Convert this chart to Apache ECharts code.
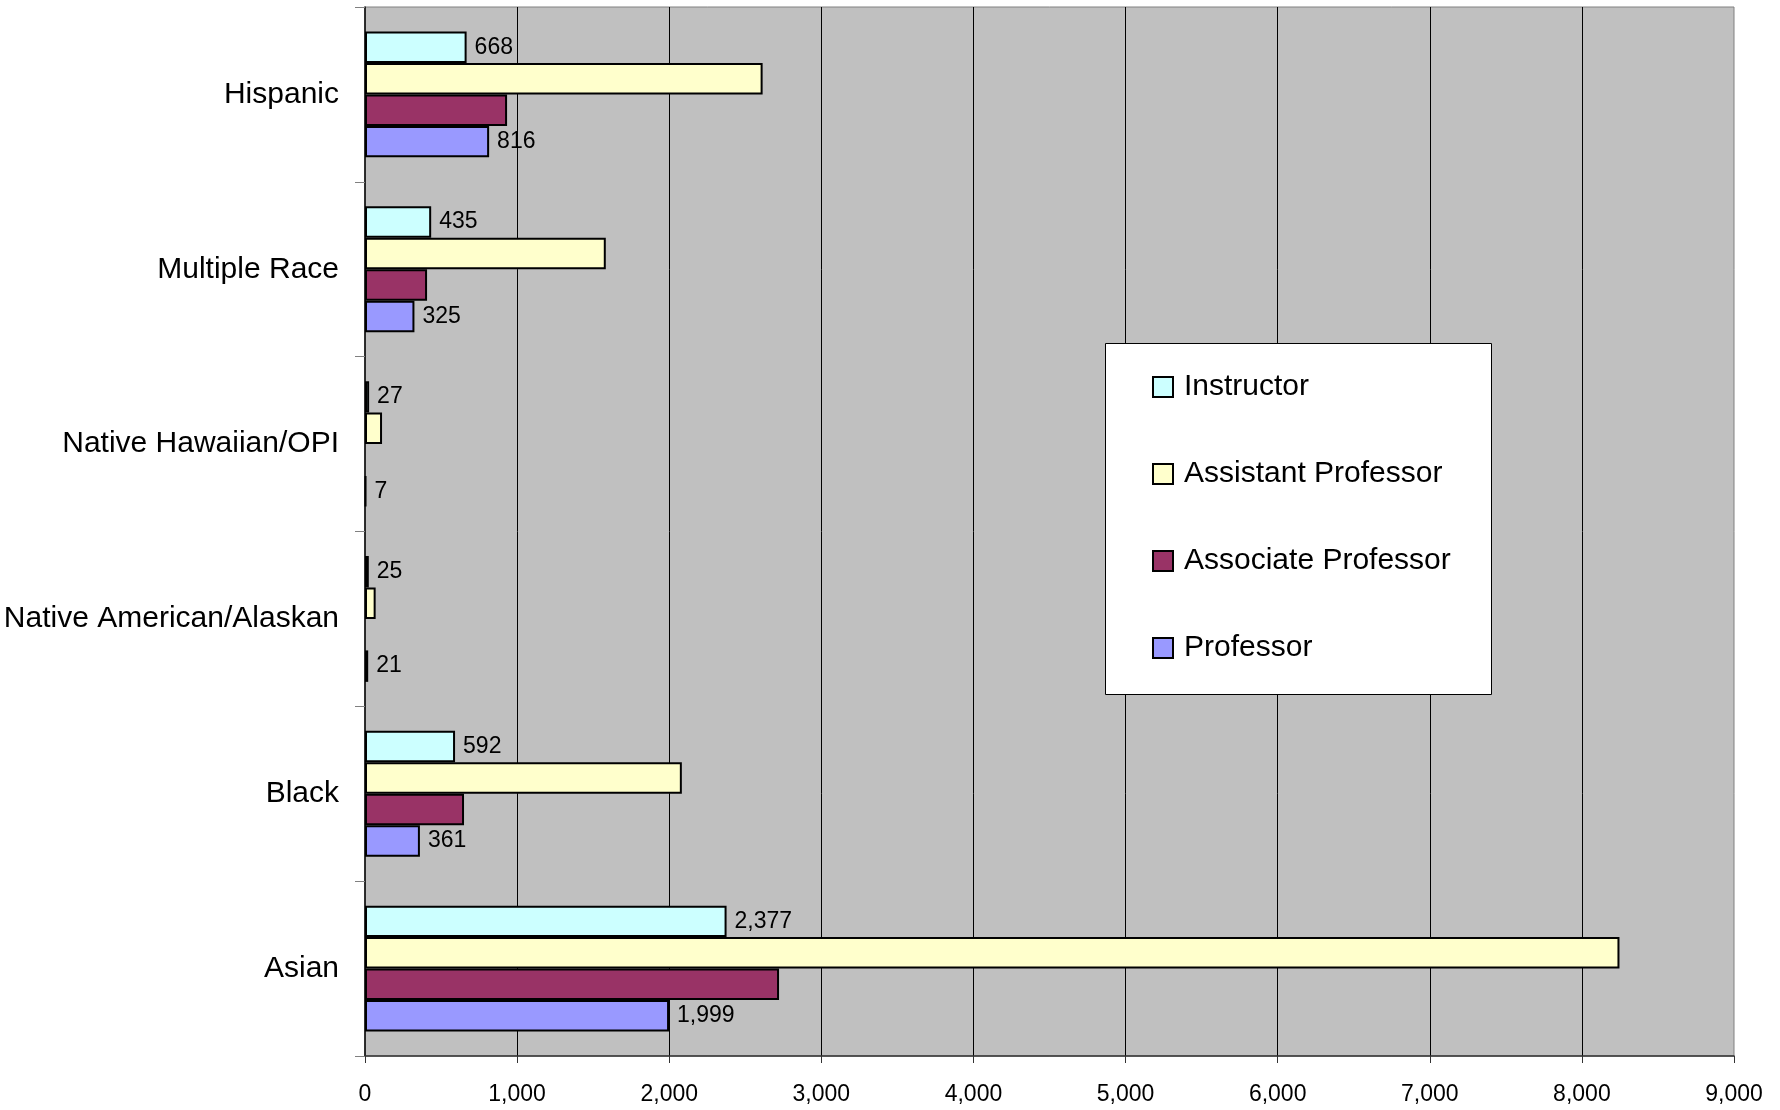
<!DOCTYPE html>
<html>
<head>
<meta charset="utf-8">
<script src="https://cdn.jsdelivr.net/npm/echarts@6/dist/echarts.min.js"></script>
<style>
  html, body { margin: 0; padding: 0; background: #ffffff; }
  #chart { width: 1780px; height: 1110px; }
</style>
</head>
<body>
<div id="chart"></div>
<script>
// Faculty counts by race/ethnicity and rank
const categories = ['Hispanic', 'Multiple Race', 'Native Hawaiian/OPI', 'Native American/Alaskan', 'Black', 'Asian'];
const seriesNames = ['Instructor', 'Assistant Professor', 'Associate Professor', 'Professor'];
const instructor = [668, 435, 27, 25, 592, 2377];
const assistantProfessor = [2614, 1583, 112, 70, 2083, 8247];
const associateProfessor = [934, 408, null, null, 651, 2722];
const professor = [816, 325, 7, 21, 361, 1999];
const xTicks = [0, 1000, 2000, 3000, 4000, 5000, 6000, 7000, 8000, 9000];

const colors = ['#CCFFFF', '#FFFFCC', '#993366', '#9999FF'];
const values = [instructor, assistantProfessor, associateProfessor, professor];
const labelled = [true, false, false, true];

const FONT = "'Liberation Sans', Arial, sans-serif";
const fmt = v => Number(v).toLocaleString('en-US');

const chart = echarts.init(document.getElementById('chart'), null, { renderer: 'canvas' });

const series = seriesNames.map((name, i) => ({
  name: name,
  type: 'bar',
  data: values[i],
  barGap: '0%',
  barCategoryGap: '28%',
  itemStyle: { color: colors[i], borderColor: '#000000', borderWidth: 2 },
  label: {
    show: labelled[i],
    position: 'right',
    distance: 8,
    color: '#000000',
    fontFamily: FONT,
    fontSize: 23,
    formatter: p => fmt(p.value)
  },
  emphasis: { disabled: true },
  animation: false
}));

chart.setOption({
  animation: false,
  backgroundColor: '#ffffff',
  grid: {
    left: 365, right: 46, top: 7, bottom: 54,
    containLabel: false,
    outerBoundsMode: 'none',
    show: true,
    backgroundColor: '#C0C0C0',
    borderColor: '#808080',
    borderWidth: 1
  },
  xAxis: {
    type: 'value',
    min: xTicks[0],
    max: xTicks[xTicks.length - 1],
    interval: xTicks[1] - xTicks[0],
    axisLine: { show: true, lineStyle: { color: '#333333', width: 1.5 } },
    axisTick: { show: true, length: 7, lineStyle: { color: '#333333' } },
    axisLabel: {
      margin: 27,
      color: '#000000',
      fontFamily: FONT,
      fontSize: 23,
      formatter: v => fmt(v)
    },
    splitLine: { show: true, showMinLine: false, showMaxLine: false, lineStyle: { color: '#000000', width: 1 } }
  },
  yAxis: {
    type: 'category',
    data: categories,
    inverse: true,
    axisLine: { show: true, lineStyle: { color: '#000000', width: 1.5 } },
    axisTick: { show: true, length: 10, lineStyle: { color: '#808080' } },
    axisLabel: {
      margin: 26,
      color: '#000000',
      fontFamily: FONT,
      fontSize: 30,
      padding: [8, 0, 0, 0]
    },
    splitLine: { show: false }
  },
  legend: {
    data: seriesNames,
    orient: 'vertical',
    left: 1152,
    top: 367,
    z: 10,
    padding: 0,
    itemGap: 47,
    itemWidth: 20,
    itemHeight: 20,
    icon: 'rect',
    itemStyle: { borderColor: '#000000', borderWidth: 2 },
    textStyle: { color: '#000000', fontFamily: FONT, fontSize: 30, lineHeight: 40, padding: [0, 0, 0, 6] },
    selectedMode: false
  },
  graphic: [{
    type: 'rect',
    z: 5,
    shape: { x: 1105.5, y: 343.5, width: 386, height: 351 },
    style: { fill: '#ffffff', stroke: '#000000', lineWidth: 1 }
  }],
  series: series
});
</script>
</body>
</html>
